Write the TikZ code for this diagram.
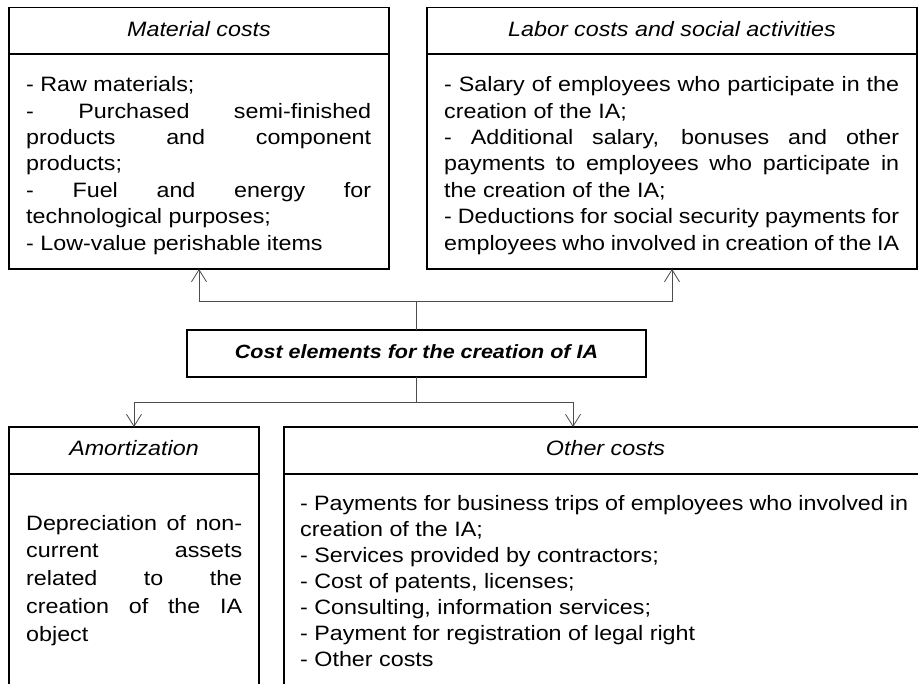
\documentclass[tikz,border=0pt]{standalone}
\usepackage{fontspec}
\setmainfont[FakeStretch=1.12]{Liberation Sans}
\usetikzlibrary{arrows.meta,calc}
\newcommand{\nohyph}{\hyphenpenalty=10000 \exhyphenpenalty=10000\relax}
\begin{document}
\begin{tikzpicture}[x=1pt,y=-1pt,
  box/.style={draw=black,line width=1.3pt,inner sep=0pt,outer sep=0pt,anchor=north west},
  rule/.style={draw=black,line width=1.3pt},
  conn/.style={draw=black!70,line width=0.8pt},
  arr/.style={conn,-{Straight Barb[length=12pt,width=15pt]}},
  body/.style={inner sep=0pt,anchor=base west,align=justify,
    font=\fontsize{20.8}{26.4}\selectfont\nohyph},
  head/.style={inner sep=0pt,anchor=base,font=\fontsize{20.8}{26.4}\selectfont\itshape},
]
\useasboundingbox (0,0) rectangle (918,683);
\clip (0,0) rectangle (918,683);

% top boxes
\node[box,minimum width=380pt,minimum height=261.5pt] (mat) at (9,7.5) {};
\draw[rule] (mat.west |- 0,54) -- (mat.east |- 0,54);
\node[box,minimum width=490pt,minimum height=261.5pt] (lab) at (427,7.5) {};
\draw[rule] (lab.west |- 0,54) -- (lab.east |- 0,54);

\node[head] (math) at (199,36.7) {Material costs};
\node[head] (labh) at (672,36.7) {Labor costs and social activities};

\node[body,text width=345pt] (matb) at (26,91.7) {- Raw materials;\\
- Purchased semi-finished\linebreak products and component\linebreak products;\\
- Fuel and energy for\linebreak technological purposes;\\
- Low-value perishable items};

\node[body,text width=455pt] (labb) at (444,91.7) {- Salary of employees who participate in the\linebreak creation of the IA;\\
- Additional salary, bonuses and other\linebreak payments to employees who participate in\linebreak the creation of the IA;\\
- Deductions for social security payments for\linebreak employees who involved in creation of the IA};

% center box
\node[box,minimum width=459pt,minimum height=47pt] (center) at (187,330) {};
\node[inner sep=0pt,anchor=base,font=\fontsize{19.2}{24}\selectfont\bfseries\itshape] (ctext) at (416.5,358.3) {Cost elements for the creation of IA};

% bottom boxes
\node[box,minimum width=250pt,minimum height=300pt] (amo) at (9,427) {};
\draw[rule] (amo.west |- 0,474) -- (amo.east |- 0,474);
\node[box,minimum width=643pt,minimum height=300pt] (oth) at (284,427) {};
\draw[rule] (oth.west |- 0,474) -- (oth.east |- 0,474);

\node[head] (amoh) at (134,455.3) {Amortization};
\node[head] (othh) at (605.5,455.3) {Other costs};

\node[body,text width=216pt,font=\fontsize{20.8}{27.9}\selectfont\nohyph] (amob) at (26,530) {Depreciation of non-\linebreak current assets\linebreak related to the\linebreak creation of the IA\linebreak object};

\node[body,text width=608pt,font=\fontsize{20.8}{26.1}\selectfont\nohyph] (othb) at (300,510) {- Payments for business trips of employees who involved in\linebreak creation of the IA;\\
- Services provided by contractors;\\
- Cost of patents, licenses;\\
- Consulting, information services;\\
- Payment for registration of legal right\\
- Other costs};

% connectors
\coordinate (tj) at (center.north |- 0,301);
\draw[conn] (center.north) -- (tj);
\draw[arr] (tj) -| (mat.south);
\draw[arr] (tj) -| (lab.south);
\coordinate (bj) at (center.south |- 0,402);
\coordinate (otip) at (573,427);
\draw[conn] (center.south) -- (bj);
\draw[arr] (bj) -| (amo.north);
\draw[arr] (bj) -| (otip);
\end{tikzpicture}
\end{document}
